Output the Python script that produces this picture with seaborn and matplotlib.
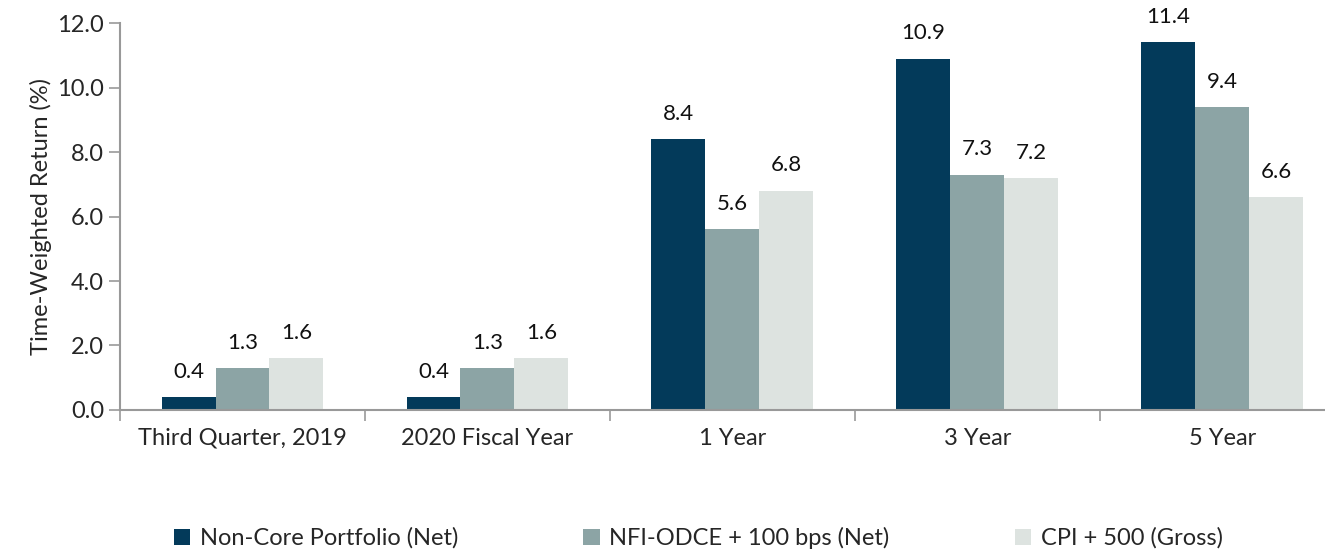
import seaborn as sns
import matplotlib.pyplot as plt
import pandas as pd
import numpy as np

periods = ['Third Quarter, 2019', '2020 Fiscal Year', '1 Year', '3 Year', '5 Year']
series = ['Non-Core Portfolio (Net)', 'NFI-ODCE + 100 bps (Net)', 'CPI + 500 (Gross)']
non_core = [0.4, 0.4, 8.4, 10.9, 11.4]
nfi_odce = [1.3, 1.3, 5.6, 7.3, 9.4]
cpi = [1.6, 1.6, 6.8, 7.2, 6.6]
colors = ['#033a5a', '#8ca4a5', '#dde3e0']

df = pd.DataFrame({
    'Period': periods * 3,
    'Series': [series[0]] * 5 + [series[1]] * 5 + [series[2]] * 5,
    'Return': non_core + nfi_odce + cpi,
})

sns.set_style('white')
plt.rcParams['font.family'] = ['Lato', 'DejaVu Sans']
plt.rcParams['font.size'] = 16

fig = plt.figure(figsize=(13.25, 5.51), dpi=100)
ax = fig.add_axes([0.0906, 0.256, 0.9094, 0.702])

a = sns.barplot(data=df, x='Period', y='Return', hue='Series', palette=colors,
                width=0.66, saturation=1, linewidth=0, ax=ax, legend=True)

for c in a.containers:
    a.bar_label(c, fmt='%.1f', padding=11, fontsize=16, color='#111111')

a.set_ylim(0, 12)
a.set_yticks(np.arange(0, 12.1, 2))
a.set_yticklabels([f'{v:.1f}' for v in np.arange(0, 12.1, 2)], fontsize=17)
a.set_xlim(-0.5, 4.42)
a.set_xticks(np.arange(-0.5, 4.5, 1))
a.set_xticklabels([])
a.set_xticks(range(5), minor=True)
a.set_xticklabels(periods, minor=True, fontsize=17)
a.tick_params(axis='x', which='major', length=8, width=1.2, color='#999999', direction='out', bottom=True)
a.tick_params(axis='x', which='minor', length=0, pad=13)
a.tick_params(axis='y', length=8, width=1.2, color='#999999', direction='out', left=True)
a.set_xlabel('')
a.set_ylabel('Time-Weighted Return (%)', fontsize=17)

for s in ['top', 'right']:
    a.spines[s].set_visible(False)
for s in ['left', 'bottom']:
    a.spines[s].set_color('#999999')
    a.spines[s].set_linewidth(1.5)

handles, labels = a.get_legend_handles_labels()
a.get_legend().remove()
fig.legend(handles, labels, loc='lower center', bbox_to_anchor=(0.527, -0.035), ncol=3,
           frameon=False, fontsize=17, handlelength=0.7, handleheight=0.7,
           handletextpad=0.4, columnspacing=5.3)

fig.savefig('out.png', dpi=100)
